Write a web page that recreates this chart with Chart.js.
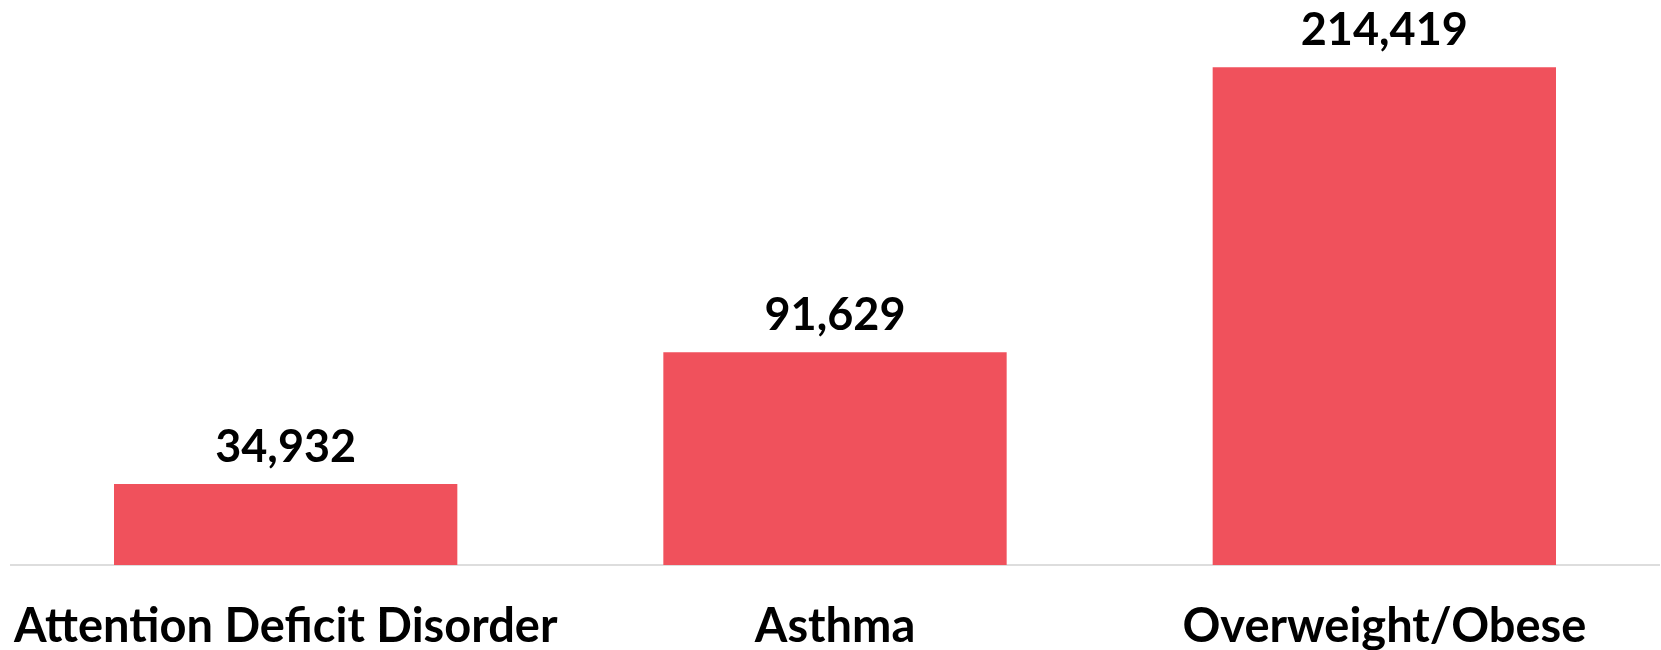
<!DOCTYPE html>
<html>
<head>
<meta charset="utf-8">
<script src="https://cdn.jsdelivr.net/npm/chart.js@4/dist/chart.umd.min.js"></script>
<style>
  html, body { margin: 0; padding: 0; background: #fff; }
  #wrap { width: 1661px; height: 650px; position: relative; }
</style>
</head>
<body>
<div id="wrap"><canvas id="conditionsChart"></canvas></div>
<script>
const categories = ['Attention Deficit Disorder', 'Asthma', 'Overweight/Obese'];
const childCounts = [34932, 91629, 214419];

const barColor = '#F0515C';
const fontFamily = 'Lato, "Open Sans", sans-serif';

// writes the count above each bar
const valueLabels = {
  id: 'valueLabels',
  afterDatasetsDraw(chart) {
    const ctx = chart.ctx;
    const meta = chart.getDatasetMeta(0);
    ctx.save();
    ctx.fillStyle = '#000';
    ctx.font = 'bold 45px ' + fontFamily;
    ctx.textAlign = 'center';
    ctx.textBaseline = 'alphabetic';
    meta.data.forEach(function(bar, i) {
      ctx.fillText(childCounts[i].toLocaleString('en-US'), bar.x, bar.y - 22);
    });
    ctx.restore();
  }
};

let ctx = document.getElementById('conditionsChart').getContext('2d');
let myChart = new Chart(ctx, {
  type: 'bar',
  data: {
    labels: categories,
    datasets: [{
      data: childCounts,
      backgroundColor: barColor,
      borderWidth: 0,
      barPercentage: 0.625,
      categoryPercentage: 1
    }]
  },
  options: {
    responsive: true,
    maintainAspectRatio: false,
    animation: false,
    layout: { padding: { left: 11, right: 2, top: 8, bottom: 0 } },
    plugins: {
      legend: { display: false },
      tooltip: { enabled: false }
    },
    scales: {
      x: {
        // fixed axis height, and no extra side padding for the long first label
        afterFit(scale) {
          scale.height = 85;
          scale.paddingLeft = 0;
          scale.paddingRight = 0;
        },
        grid: { display: false, drawTicks: false },
        border: { display: true, color: '#dddddd', width: 2 },
        ticks: {
          color: '#000',
          padding: 34,
          maxRotation: 0,
          font: { family: fontFamily, size: 47, weight: 'bold' }
        }
      },
      y: {
        display: false,
        min: 0,
        max: 240000
      }
    }
  },
  plugins: [valueLabels]
});
</script>
</body>
</html>
